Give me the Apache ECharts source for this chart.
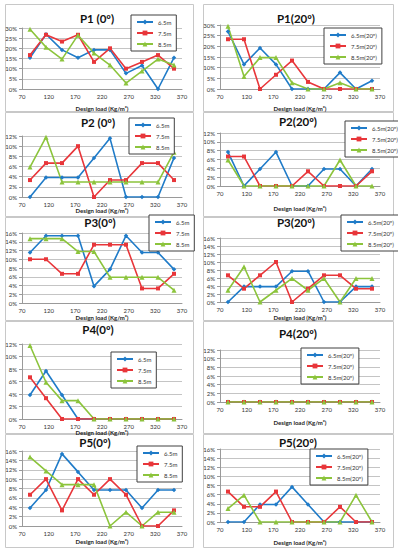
<!DOCTYPE html>
<html>
<head>
<meta charset="utf-8">
<script src="https://cdn.jsdelivr.net/npm/echarts@6/dist/echarts.min.js"></script>
<style>
html,body{margin:0;padding:0;background:#fff;}
#c{width:398px;height:550px;}
</style>
</head>
<body>
<div id="c"></div>
<script>
// Design loads (x values)
const loads = [85, 115, 145, 175, 205, 235, 265, 295, 325, 355];
const xTicks = [70, 120, 170, 220, 270, 320, 370];
const namesL = ['6.5m', '7.5m', '8.5m'];
const namesR = ['6.5m(20º)', '7.5m(20º)', '8.5m(20º)'];

// P1 (0º)
const p1_0_65 = [15.38, 26.92, 19.23, 15.38, 19.23, 19.23, 7.69, 11.54, 0, 15.38];
const p1_0_75 = [16.67, 26.67, 23.33, 26.67, 13.33, 20, 10, 13.33, 16.67, 10];
const p1_0_85 = [29.41, 20.59, 14.71, 26.47, 17.65, 11.76, 2.94, 8.82, 14.71, 11.76];
// P1 (20º)
const p1_20_65 = [26.92, 11.54, 19.23, 11.54, 0, 0, 0, 7.69, 0, 3.85];
const p1_20_75 = [23.33, 23.33, 0, 6.67, 13.33, 3.33, 0, 0, 0, 0];
const p1_20_85 = [29.41, 5.88, 14.71, 14.71, 2.94, 0, 0, 2.94, 0, 0];
// P2 (0º)
const p2_0_65 = [0, 3.85, 3.85, 3.85, 7.69, 11.54, 0, 0, 0, 7.69];
const p2_0_75 = [3.33, 6.67, 6.67, 10, 0, 3.33, 3.33, 6.67, 6.67, 3.33];
const p2_0_85 = [5.88, 11.76, 2.94, 2.94, 2.94, 2.94, 2.94, 2.94, 2.94, 8.82];
// P2 (20º)
const p2_20_65 = [7.69, 0, 3.85, 7.69, 0, 0, 3.85, 3.85, 0, 3.85];
const p2_20_75 = [6.67, 6.67, 0, 0, 0, 3.33, 0, 0, 0, 3.33];
const p2_20_85 = [5.88, 0, 0, 0, 0, 0, 0, 5.88, 0, 0];
// P3 (0º)
const p3_0_65 = [11.54, 15.38, 15.38, 15.38, 3.85, 7.69, 15.38, 11.54, 11.54, 7.69];
const p3_0_75 = [10, 10, 6.67, 6.67, 13.33, 13.33, 13.33, 3.33, 3.33, 6.67];
const p3_0_85 = [14.71, 14.71, 14.71, 11.76, 11.76, 5.88, 5.88, 5.88, 5.88, 2.94];
// P3 (20º)
const p3_20_65 = [0, 3.85, 3.85, 3.85, 7.69, 7.69, 0, 0, 3.85, 3.85];
const p3_20_75 = [6.67, 3.33, 6.67, 10, 0, 3.33, 6.67, 6.67, 3.33, 3.33];
const p3_20_85 = [2.94, 8.82, 0, 2.94, 5.88, 2.94, 5.88, 0, 5.88, 5.88];
// P4 (0º)
const p4_0_65 = [3.85, 7.69, 3.85, 0, 0, 0, 0, 0, 0, 0];
const p4_0_75 = [6.67, 3.33, 0, 0, 0, 0, 0, 0, 0, 0];
const p4_0_85 = [11.76, 5.88, 2.94, 2.94, 0, 0, 0, 0, 0, 0];
// P4 (20º)
const p4_20_65 = [0, 0, 0, 0, 0, 0, 0, 0, 0, 0];
const p4_20_75 = [0, 0, 0, 0, 0, 0, 0, 0, 0, 0];
const p4_20_85 = [0, 0, 0, 0, 0, 0, 0, 0, 0, 0];
// P5 (0º)
const p5_0_65 = [3.85, 7.69, 15.38, 11.54, 7.69, 7.69, 7.69, 3.85, 7.69, 7.69];
const p5_0_75 = [6.67, 10, 3.33, 10, 6.67, 10, 6.67, 0, 0, 3.33];
const p5_0_85 = [14.71, 11.76, 8.82, 8.82, 8.82, 0, 2.94, 0, 2.94, 2.94];
// P5 (20º)
const p5_20_65 = [0, 0, 3.85, 3.85, 7.69, 3.85, 0, 0, 0, 0];
const p5_20_75 = [6.67, 3.33, 3.33, 6.67, 0, 0, 0, 3.33, 0, 0];
const p5_20_85 = [2.94, 5.88, 0, 0, 0, 0, 0, 0, 5.88, 0];

const colors = ['#1f7bc8', '#e8363a', '#8cc43c'];
const symbols = ['diamond', 'rect', 'triangle'];
const symSizes = [4.5, 4, 5];

const panels = [
  {title:'P1 (0º)', col:0, tx:97, ty:18, top:28, zero:89, max:30, step:5, gap:16, lg:[131,15], names:namesL, data:[p1_0_65,p1_0_75,p1_0_85], box:[5,4,188,107]},
  {title:'P1(20º)', col:1, tx:296, ty:18, top:25, zero:89, max:30, step:5, gap:16, lg:[324,28], names:namesR, data:[p1_20_65,p1_20_75,p1_20_85], box:[203,4,190,107]},
  {title:'P2 (0º)', col:0, tx:98, ty:122, top:136, zero:197, max:12, step:2, gap:10, lg:[129,118], names:namesL, data:[p2_0_65,p2_0_75,p2_0_85], box:[5,112,188,104]},
  {title:'P2(20º)', col:1, tx:298, ty:121, top:133, zero:186, max:12, step:2, gap:19, lg:[345,121], names:namesR, data:[p2_20_65,p2_20_75,p2_20_85], box:[203,112,190,104]},
  {title:'P3(0º)', col:0, tx:100, ty:222, top:233, zero:303, max:16, step:2, gap:11, lg:[149,215], names:namesL, data:[p3_0_65,p3_0_75,p3_0_85], box:[5,217,188,103]},
  {title:'P3(20º)', col:1, tx:296, ty:222, top:238, zero:302, max:16, step:2, gap:12, lg:[341,215], names:namesR, data:[p3_20_65,p3_20_75,p3_20_85], box:[203,217,190,103]},
  {title:'P4(0º)', col:0, tx:98, ty:329, top:344, zero:419, max:12, step:2, gap:9, lg:[111,352], names:namesL, data:[p4_0_65,p4_0_75,p4_0_85], box:[5,321,188,112]},
  {title:'P4(20º)', col:1, tx:298, ty:333, top:350, zero:402, max:12, step:2, gap:17, lg:[301,348], names:namesR, data:[p4_20_65,p4_20_75,p4_20_85], box:[203,321,190,112]},
  {title:'P5(0º)', col:0, tx:95, ty:442, top:451, zero:526, max:16, step:2, gap:12, lg:[137,446], names:namesL, data:[p5_0_65,p5_0_75,p5_0_85], box:[5,434,188,113]},
  {title:'P5(20º)', col:1, tx:298, ty:442, top:449, zero:522, max:16, step:2, gap:17, lg:[310,449], names:namesR, data:[p5_20_65,p5_20_75,p5_20_85], box:[203,434,190,113]}
];

const option = {
  animation: false,
  backgroundColor: '#fff',
  textStyle: {fontFamily: 'Lato, "Liberation Sans", sans-serif'},
  title: [], grid: [], xAxis: [], yAxis: [], legend: [], series: [], graphic: []
};

panels.forEach((p, i) => {
  option.graphic.push({
    type: 'rect', silent: true, z: -10,
    shape: {x: p.box[0] + 0.5, y: p.box[1] + 0.5, width: p.box[2], height: p.box[3]},
    style: {fill: '#fff', stroke: '#c8c8c8', lineWidth: 1}
  });
  option.title.push({
    text: p.title, left: p.tx, top: p.ty, padding: 0,
    textAlign: 'center', textVerticalAlign: 'middle',
    textStyle: {fontSize: 11.5, fontWeight: 'bold', color: '#111', fontFamily: 'Lato, sans-serif'}
  });
  option.grid.push({
    left: p.col === 0 ? 22 : 220, width: 160,
    top: p.top, height: p.zero - p.top, containLabel: false
  });
  option.xAxis.push({
    type: 'value', gridIndex: i, min: 70, max: 370, interval: 50,
    name: 'Design load (Kg/m²)', nameLocation: 'middle', nameGap: p.gap,
    nameTextStyle: {fontSize: 6, fontWeight: 'bold', color: '#222'},
    axisLine: {show: true, onZero: false, lineStyle: {color: '#9a9a9a', width: 1}},
    axisTick: {show: false},
    axisLabel: {fontSize: 6, color: '#333', margin: 4},
    splitLine: {show: false}
  });
  option.yAxis.push({
    type: 'value', gridIndex: i, min: 0, max: p.max, interval: p.step,
    axisLine: {show: true, lineStyle: {color: '#9a9a9a', width: 1}},
    axisTick: {show: true, length: 3, lineStyle: {color: '#9a9a9a'}},
    axisLabel: {fontSize: 6, color: '#333', margin: 5, formatter: '{value}%'},
    splitLine: {show: true, lineStyle: {color: '#c4c4c4', width: 1}}
  });
  option.legend.push({
    orient: 'vertical', left: p.lg[0], top: p.lg[1],
    itemWidth: 16, itemHeight: 6, itemGap: 5, padding: [4, 5, 4, 5],
    borderColor: '#404040', borderWidth: 1, backgroundColor: '#fff',
    textStyle: {fontSize: 6, color: '#333'}, selectedMode: false,
    data: p.names, z: 10
  });
  p.data.forEach((vals, k) => {
    option.series.push({
      type: 'line', name: p.names[k], xAxisIndex: i, yAxisIndex: i,
      data: loads.map((x, j) => [x, vals[j]]),
      symbol: symbols[k], symbolSize: symSizes[k], showAllSymbol: true,
      color: colors[k],
      itemStyle: {color: colors[k]},
      lineStyle: {color: colors[k], width: 1.6}
    });
  });
});

const chart = echarts.init(document.getElementById('c'), null, {renderer: 'svg'});
chart.setOption(option);
</script>
</body>
</html>
